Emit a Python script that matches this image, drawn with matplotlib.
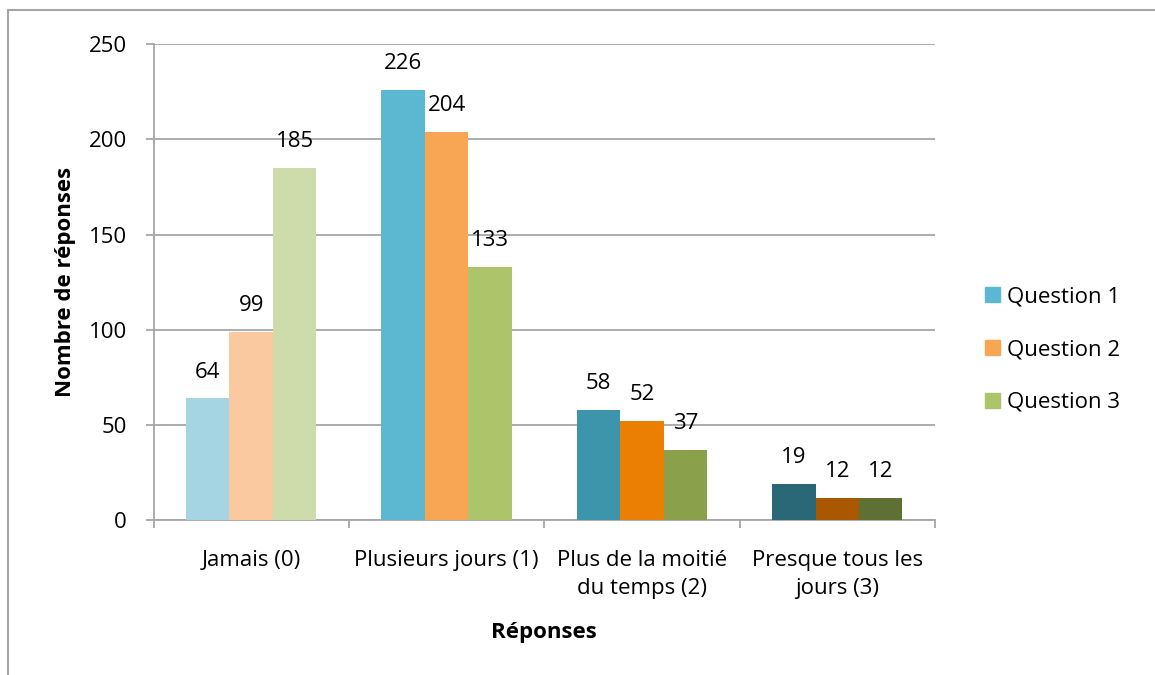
import numpy as np
import matplotlib.pyplot as plt
from matplotlib.patches import Rectangle
from matplotlib.lines import Line2D

plt.rcParams['font.family'] = ['Open Sans', 'DejaVu Sans']

# donnees
categories = ['Jamais (0)', 'Plusieurs jours (1)', 'Plus de la moitié\ndu temps (2)', 'Presque tous les\njours (3)']
series = ['Question 1', 'Question 2', 'Question 3']
q1 = [64, 226, 58, 19]
q2 = [99, 204, 52, 12]
q3 = [185, 133, 37, 12]
valeurs = [q1, q2, q3]

# teintes par categorie (clair -> fonce), une liste par question
teintes = [
    ['#A5D5E2', '#5BB8D0', '#3D95AB', '#2A6877'],
    ['#FAC9A0', '#F9A654', '#EA7F04', '#A95700'],
    ['#CDDCAA', '#AEC46A', '#8AA04A', '#5F7034'],
]
cor_grade = '#A6A6A6'
tam = 16

fig = plt.figure(figsize=(11.55, 6.75), dpi=100)
ax = fig.add_axes([153.5 / 1155, 0.2289, 781.5 / 1155, 0.706])

x = np.arange(len(categories))
largura = 1 / 4.5
for i, vals in enumerate(valeurs):
    pos = x + (i - 1) * largura
    ax.bar(pos, vals, width=largura, color=teintes[i], zorder=3)
    for px, v in zip(pos, vals):
        ax.annotate(str(v), xy=(px, v), xytext=(0, 19), textcoords='offset points',
                    ha='center', va='center', fontsize=tam)

ax.set_xlim(-0.5, len(categories) - 0.5)
ax.set_ylim(0, 250)
ax.set_yticks(np.arange(0, 251, 50))
ax.yaxis.grid(True, color=cor_grade, linewidth=1.3, zorder=0)

ax.set_xticks(np.arange(-0.5, len(categories), 1.0))
ax.set_xticklabels([])
ax.set_xticks(x, minor=True)
ax.set_xticklabels(categories, minor=True, fontsize=tam, linespacing=1.45)
ax.tick_params(axis='x', which='major', length=6, color=cor_grade, width=1.3)
ax.tick_params(axis='x', which='minor', length=0, pad=21)
ax.tick_params(axis='y', length=6, color=cor_grade, width=1.3, labelsize=tam, pad=13)

for lado in ('top', 'right'):
    ax.spines[lado].set_visible(False)
for lado in ('left', 'bottom'):
    ax.spines[lado].set_color(cor_grade)
    ax.spines[lado].set_linewidth(1.3)

ax.set_xlabel('Réponses', fontsize=tam, weight='bold', labelpad=17)
ax.set_ylabel('Nombre de réponses', fontsize=tam, weight='bold', labelpad=9)

handles = [Rectangle((0, 0), 1, 1, color=teintes[i][1]) for i in range(3)]
fig.legend(handles, series, loc='center left', bbox_to_anchor=(0.853, 0.482),
           frameon=False, fontsize=tam, handlelength=0.65, handleheight=0.65,
           handletextpad=0.35, labelspacing=1.43, borderpad=0, borderaxespad=0)

# cadre exterieur
fig.add_artist(Line2D([8 / 1155, 8 / 1155], [0, 1 - 10 / 675], color=cor_grade, linewidth=1.5))
fig.add_artist(Line2D([8 / 1155, 1], [1 - 10 / 675, 1 - 10 / 675], color=cor_grade, linewidth=1.5))

plt.savefig('out.png', dpi=100)
